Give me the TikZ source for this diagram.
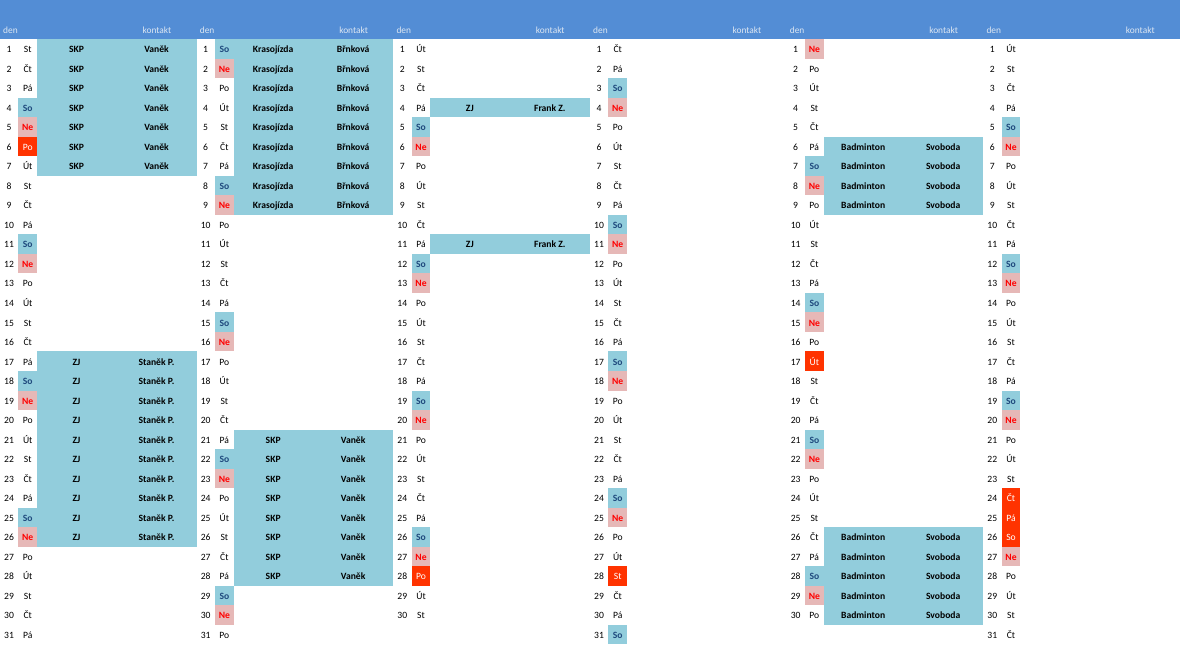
\documentclass[tikz,border=0pt]{standalone}
\usepackage{fontspec}
\setmainfont{Carlito}
\definecolor{hdr}{HTML}{538DD5}
\definecolor{hdrtxt}{HTML}{DCE6F2}
\definecolor{evt}{HTML}{92CDDC}
\definecolor{nebg}{HTML}{E6B8B7}
\definecolor{holbg}{HTML}{FF3300}
\definecolor{sotxt}{HTML}{1F497D}
\definecolor{netxt}{HTML}{FF0000}
\def\dayname#1{\ifcase#1 Po\or Út\or St\or Čt\or Pá\or So\or Ne\fi}
\expandafter\def\csname hol0-6\endcsname{}
\expandafter\def\csname hol2-28\endcsname{}
\expandafter\def\csname hol3-28\endcsname{}
\expandafter\def\csname hol4-17\endcsname{}
\expandafter\def\csname hol5-24\endcsname{}
\expandafter\def\csname hol5-25\endcsname{}
\expandafter\def\csname hol5-26\endcsname{}
\tikzset{
  cell/.style={inner sep=0pt, font=\fontsize{9.6}{11}\selectfont, anchor=base},
  hdtxt/.style={inner sep=0pt, font=\fontsize{9.4}{11}\selectfont, text=hdrtxt},
  numtxt/.style={cell, text=black},
  txtw/.style={cell, text=black},
  txts/.style={cell, text=sotxt, font=\fontsize{9.6}{11}\selectfont\bfseries},
  txtn/.style={cell, text=netxt, font=\fontsize{9.6}{11}\selectfont\bfseries},
  txth/.style={cell, text=white},
  bgw/.style={},
  bgs/.style={fill=evt},
  bgn/.style={fill=nebg},
  bgh/.style={fill=holbg},
  evtxt/.style={cell, text=black, font=\fontsize{9.6}{11}\selectfont\bfseries},
}
\begin{document}
\begin{tikzpicture}[x=1pt,y=-1pt]
\useasboundingbox (0,0) rectangle (1180,645);
\fill[white] (0,0) rectangle (1180,645);
\fill[hdr] (0,0) rectangle (1180,39);
% event blocks
\foreach \m/\a/\b/\ev/\ct in {0/1/7/SKP/Vaněk, 0/17/26/ZJ/Staněk P., 1/1/9/Krasojízda/Břnková, 1/21/28/SKP/Vaněk, 2/4/4/ZJ/Frank Z., 2/11/11/ZJ/Frank Z., 4/6/9/Badminton/Svoboda, 4/26/30/Badminton/Svoboda}{
  \pgfmathsetmacro\xo{\m*196.667}
  \pgfmathsetmacro\ya{39+(\a-1)*19.53}
  \pgfmathsetmacro\yb{39+\b*19.53}
  \fill[evt] (\xo+37,\ya) rectangle (\xo+196.667,\yb);
  \foreach \d in {\a,...,\b}{
    \pgfmathsetmacro\yl{39+(\d-1)*19.53+13.6}
    \node[evtxt] (e\m-\d) at (\xo+76.5,\yl) {\ev};
    \node[evtxt] (c\m-\d) at (\xo+156.5,\yl) {\ct};
  }
}
% months
\foreach \m/\st/\nd in {0/2/31, 1/5/31, 2/1/30, 3/3/31, 4/6/30, 5/1/31}{
  \pgfmathsetmacro\xo{\m*196.667}
  \node[hdtxt, anchor=base west] (hd\m) at (\xo+3,33) {den};
  \node[hdtxt, anchor=base east] (hk\m) at (\xo+171.5,33) {kontakt};
  \foreach \d in {1,...,\nd}{
    \pgfmathtruncatemacro\w{mod(\st+\d-1,7)}
    \pgfmathsetmacro\yt{39+(\d-1)*19.53}
    \pgfmathsetmacro\yl{\yt+13.6}
    \ifcsname hol\m-\d\endcsname
      \def\ty{h}%
    \else
      \ifnum\w=5 \def\ty{s}\else\ifnum\w=6 \def\ty{n}\else\def\ty{w}\fi\fi
    \fi
    \path[bg\ty] (\xo+18.3,\yt) rectangle (\xo+37,\yt+19.53);
    \node[numtxt] (n\m-\d) at (\xo+9,\yl) {\d};
    \node[txt\ty] (w\m-\d) at (\xo+27.7,\yl) {\dayname{\w}};
  }
}
\end{tikzpicture}
\end{document}
